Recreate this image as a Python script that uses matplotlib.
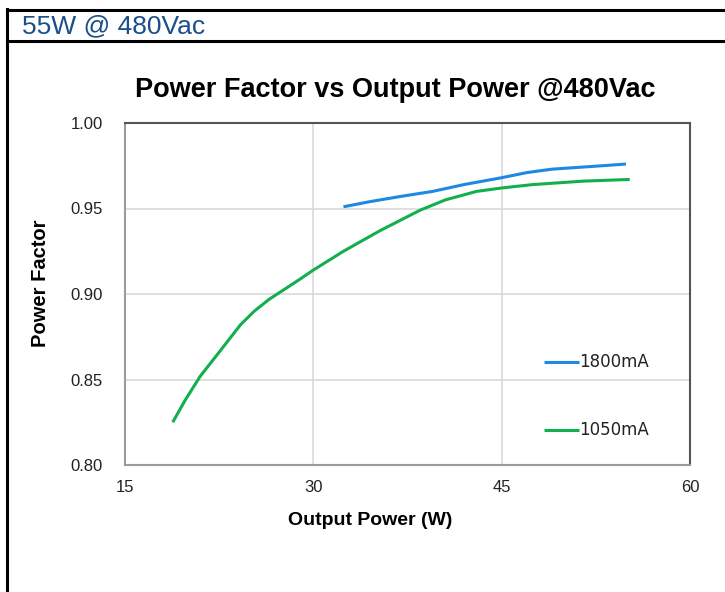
import matplotlib.pyplot as plt
from matplotlib.lines import Line2D

# data
p_1800 = [32.4, 34.5, 36.9, 39.5, 42.0, 45.0, 47.0, 49.0, 51.0, 53.0, 54.9]
pf_1800 = [0.951, 0.954, 0.957, 0.960, 0.964, 0.968, 0.971, 0.973, 0.974, 0.975, 0.976]

p_1050 = [18.8, 19.8, 21.0, 22.5, 24.2, 25.3, 26.5, 28.8, 30.0, 32.4, 35.3, 36.9, 38.5, 39.5, 40.5, 41.5, 43.0, 45.0, 47.5, 51.5, 55.2]
pf_1050 = [0.825, 0.838, 0.852, 0.866, 0.882, 0.890, 0.897, 0.908, 0.914, 0.925, 0.937, 0.943, 0.949, 0.952, 0.955, 0.957, 0.960, 0.962, 0.964, 0.966, 0.967]

x_ticks = [15, 30, 45, 60]
y_ticks = [0.80, 0.85, 0.90, 0.95, 1.00]

plt.rcParams['font.family'] = ['Liberation Sans', 'DejaVu Sans']

W, H = 725, 592
fig = plt.figure(figsize=(W / 100, H / 100), dpi=100)

# outer table frame
def fx(px):
    return px / W

def fy(py):
    return 1 - py / H

fig.add_artist(Line2D([fx(6.5), fx(6.5)], [fy(9), fy(592)], color='black', lw=2.2))
fig.add_artist(Line2D([fx(6.5), 1], [fy(9.5), fy(9.5)], color='black', lw=2.2))
fig.add_artist(Line2D([fx(6.5), 1], [fy(40.5), fy(40.5)], color='black', lw=2.2))
fig.text(fx(22), fy(26), '55W @ 480Vac', color='#1b4f8a', fontsize=19, va='center', ha='left')

ax = fig.add_axes([fx(125), fy(465), fx(690) - fx(125), fy(123) - fy(465)])
ax.plot(p_1800, pf_1800, color='#1e88e5', lw=2.2, solid_capstyle='butt', solid_joinstyle='round')
ax.plot(p_1050, pf_1050, color='#12b04c', lw=2.2, solid_capstyle='butt', solid_joinstyle='round')

ax.set_xlim(15, 60)
ax.set_ylim(0.80, 1.00)
ax.set_xticks(x_ticks)
ax.set_yticks(y_ticks)
ax.set_yticklabels(['%.2f' % v for v in y_ticks])
ax.tick_params(length=0, labelsize=12, colors='#222222')
ax.tick_params(axis='y', pad=16)
ax.tick_params(axis='x', pad=11)
ax.grid(True, color='#d9d9d9', lw=1.2)
ax.set_axisbelow(True)
for s in ['left', 'bottom']:
    ax.spines[s].set_color('#9a9a9a')
    ax.spines[s].set_linewidth(1.5)
for s in ['top', 'right']:
    ax.spines[s].set_color('#555555')
    ax.spines[s].set_linewidth(1.5)

ax.set_xlabel('Output Power (W)', fontsize=14, fontweight='bold')
ax.set_ylabel('Power Factor', fontsize=14.5, fontweight='bold')
ax.xaxis.set_label_coords(0.434, -0.137)
ax.yaxis.set_label_coords(-0.132, 0.532)
fig.text(fx(395), fy(90), 'Power Factor vs Output Power @480Vac', fontsize=19.5,
         fontweight='bold', ha='center', va='center')

# legend drawn inside the plot area
ax.plot([48.37, 51.16], [0.8602, 0.8602], color='#1e88e5', lw=2.2, solid_capstyle='butt')
ax.text(51.2, 0.8602, '1800mA', fontsize=12, va='center', family='DejaVu Sans', color='#222222')
ax.plot([48.37, 51.16], [0.8205, 0.8205], color='#12b04c', lw=2.2, solid_capstyle='butt')
ax.text(51.2, 0.8205, '1050mA', fontsize=12, va='center', family='DejaVu Sans', color='#222222')

fig.savefig('out.png', dpi=100)
